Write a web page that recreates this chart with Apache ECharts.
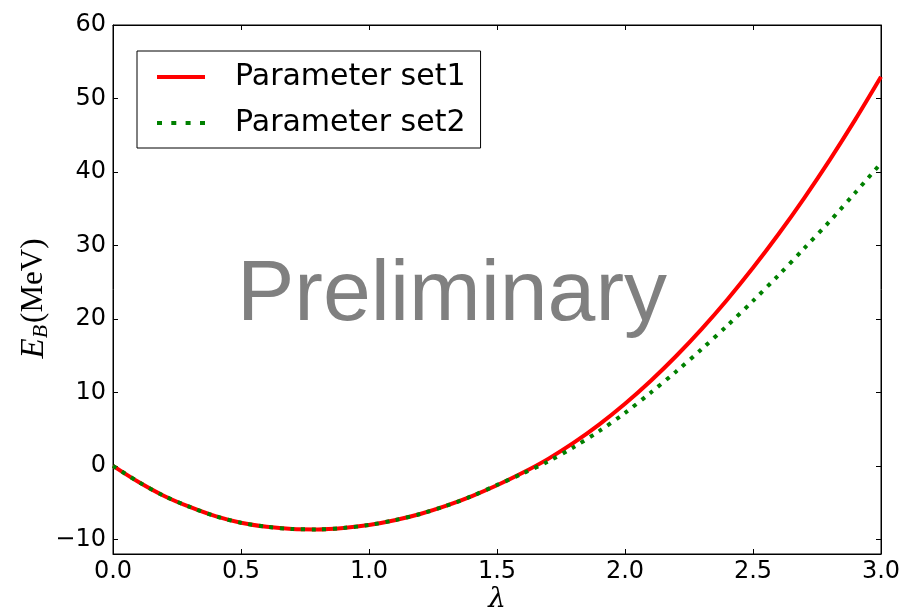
<!DOCTYPE html>
<html>
<head>
<meta charset="utf-8">
<script src="https://cdn.jsdelivr.net/npm/echarts@6/dist/echarts.min.js"></script>
<style>
  html, body { margin: 0; padding: 0; background: #fff; }
  #chart { width: 906px; height: 613px; }
</style>
</head>
<body>
<div id="chart"></div>
<script>
// Deformation parameter lambda
const lambdaValues = [0.0, 0.1, 0.2, 0.3, 0.4, 0.5, 0.6, 0.7, 0.8, 0.9, 1.0,
  1.1, 1.2, 1.3, 1.4, 1.5, 1.6, 1.7, 1.8, 1.9, 2.0,
  2.1, 2.2, 2.3, 2.4, 2.5, 2.6, 2.7, 2.8, 2.9, 3.0];

// Binding energy E_B (MeV), parameter set 1
const set1Energy = [0, -2.2, -4.1, -5.6, -6.85, -7.75, -8.3, -8.6, -8.65, -8.45, -8.05,
  -7.4, -6.55, -5.45, -4.15, -2.65, -0.95, 0.95, 3.15, 5.65, 8.45,
  11.55, 14.95, 18.65, 22.65, 26.95, 31.55, 36.45, 41.65, 47.15, 52.95];

// Binding energy E_B (MeV), parameter set 2
const set2Energy = [0, -2.2, -4.1, -5.6, -6.85, -7.75, -8.3, -8.6, -8.65, -8.45, -8.05,
  -7.4, -6.55, -5.45, -4.15, -2.6, -1.05, 0.6, 2.55, 4.75, 7.2,
  9.95, 12.85, 15.9, 19.1, 22.45, 25.95, 29.6, 33.3, 37.2, 41.2];

const seriesNames = ['Parameter set1', 'Parameter set2'];
const yTickValues = [-10, 0, 10, 20, 30, 40, 50, 60];
const watermark = 'Preliminary';

const pairs = (ys) => lambdaValues.map((x, i) => [x, ys[i]]);
const tickFont = { fontFamily: 'DejaVu Sans', fontSize: 24, color: '#000' };
const fmtY = (v) => (v < 0 ? '\u2212' + Math.abs(v) : String(v));

// legend glyphs: a solid bar and a row of square dots
const solidIcon = 'rect';
const dottedIcon = 'path://M0 0h5v4H0z M14.3 0h5v4h-5z M28.6 0h5v4h-5z M43 0h5v4h-5z';

const chart = echarts.init(document.getElementById('chart'), null, { renderer: 'canvas' });

const baseX = {
  type: 'value', min: 0, max: 3, interval: 0.5,
  axisLine: { show: true, onZero: false, lineStyle: { color: '#000', width: 1 } },
  axisTick: { show: true, inside: true, length: 5, lineStyle: { color: '#000' } },
  splitLine: { show: false }
};
const baseY = {
  type: 'value', min: -12, max: 60,
  axisLine: { show: true, onZero: false, lineStyle: { color: '#000', width: 1 } },
  axisTick: { show: true, inside: true, length: 5, customValues: yTickValues, lineStyle: { color: '#000' } },
  splitLine: { show: false }
};

chart.setOption({
  animation: false,
  backgroundColor: '#fff',
  grid: {
    left: 113, right: 25, top: 25, bottom: 59,
    containLabel: false, outerBoundsMode: 'none',
    show: true, borderColor: '#000', borderWidth: 1
  },
  xAxis: [
    Object.assign({}, baseX, {
      position: 'bottom',
      axisLabel: Object.assign({ margin: 6, formatter: (v) => v.toFixed(1) }, tickFont),
      name: '\u03bb', nameLocation: 'middle', nameGap: 32, nameMoveOverlap: false,
      nameTextStyle: { fontFamily: 'DejaVu Serif', fontStyle: 'italic', fontSize: 28, color: '#000' }
    }),
    Object.assign({}, baseX, { position: 'top', axisLabel: { show: false } })
  ],
  yAxis: [
    Object.assign({}, baseY, {
      position: 'left',
      axisLabel: Object.assign({ margin: 7, customValues: yTickValues, formatter: fmtY }, tickFont),
      name: '{e|E}{b|B}{u|(MeV)}', nameLocation: 'middle', nameGap: 61, nameRotate: 90,
      nameMoveOverlap: false,
      nameTextStyle: {
        color: '#000',
        padding: [0, 18, 0, 0],
        rich: {
          e: { fontFamily: 'Liberation Serif', fontStyle: 'italic', fontSize: 33, lineHeight: 36, verticalAlign: 'middle' },
          b: { fontFamily: 'Liberation Serif', fontStyle: 'italic', fontSize: 22, lineHeight: 22, verticalAlign: 'bottom', padding: [0, 2, 0, 0] },
          u: { fontFamily: 'Liberation Serif', fontSize: 31, lineHeight: 36, verticalAlign: 'middle' }
        }
      }
    }),
    Object.assign({}, baseY, { position: 'right', axisLabel: { show: false } })
  ],
  legend: {
    orient: 'vertical',
    left: 137, top: 51,
    padding: [9, 15, 8, 20],
    itemWidth: 48, itemHeight: 4, itemGap: 12,
    backgroundColor: '#fff', borderColor: '#000', borderWidth: 1, borderRadius: 0,
    textStyle: { fontFamily: 'DejaVu Sans', fontSize: 30, color: '#000', lineHeight: 34, padding: [0, 0, 0, 25] },
    data: [
      { name: seriesNames[0], icon: solidIcon },
      { name: seriesNames[1], icon: dottedIcon }
    ]
  },
  graphic: [{
    type: 'text', x: 452, y: 296, z: 1,
    style: {
      text: watermark, fill: '#808080',
      font: '86px "Liberation Sans"',
      align: 'center', verticalAlign: 'middle'
    }
  }],
  series: [
    {
      name: seriesNames[0], type: 'line', data: pairs(set1Energy),
      showSymbol: false, symbol: 'none', smooth: 0.3, z: 3,
      lineStyle: { color: '#ff0000', width: 4 },
      itemStyle: { color: '#ff0000' }
    },
    {
      name: seriesNames[1], type: 'line', data: pairs(set2Energy),
      showSymbol: false, symbol: 'none', smooth: 0.3, z: 4,
      lineStyle: { color: '#008000', width: 4, type: [4, 6.6], cap: 'butt' },
      itemStyle: { color: '#008000' }
    }
  ]
});
</script>
</body>
</html>
